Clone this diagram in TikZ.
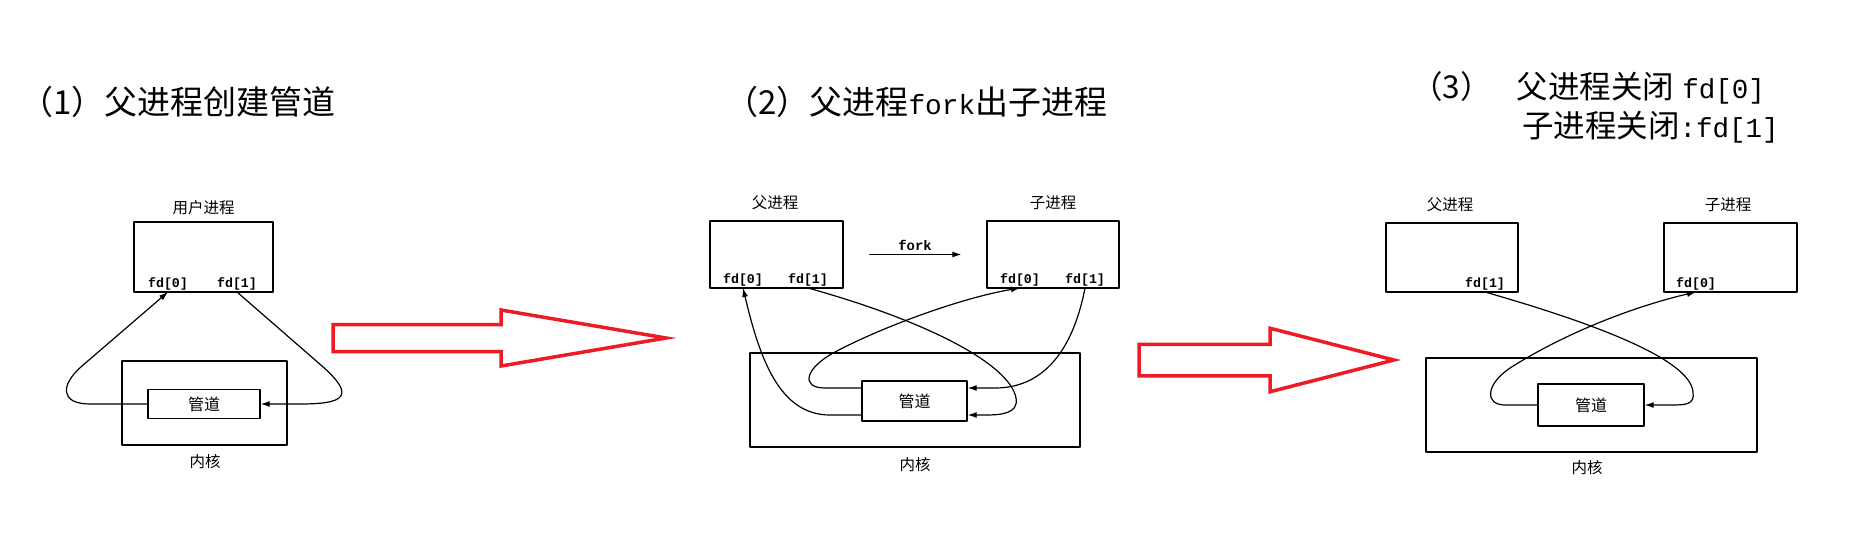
\documentclass[tikz,border=0pt]{standalone}
\usepackage{fontspec}
\setmainfont{Noto Sans CJK SC}
\setmonofont{Liberation Mono}
\usepackage{tikz}
\usetikzlibrary{arrows.meta}
\definecolor{arrred}{RGB}{237,28,36}
\tikzset{>=latex}
\tikzset{box/.style={draw, line width=1.3pt, inner sep=0pt, font=\fontsize{16}{18}\selectfont}}
\tikzset{lbl/.style={font=\fontsize{15.5}{18}\selectfont}}
\tikzset{fd/.style={anchor=south, inner sep=2pt, font=\ttfamily\bfseries\fontsize{13.3}{15}\selectfont}}
\tikzset{link/.style={line width=1.2pt, -{Latex[length=9pt, width=6pt]}}}
\tikzset{redarr/.style={draw=arrred, line width=3.5pt, line join=miter}}
\tikzset{title/.style={anchor=west, inner sep=0pt}}
\newcommand{\hollowarrow}[6]{%
	\draw[redarr] (#1,#4-#5) -- (#2,#4-#5) -- (#2,#4-#6) -- (#3,#4) -- (#2,#4+#6) -- (#2,#4+#5) -- (#1,#4+#5) -- cycle;
}

\begin{document}
\begin{tikzpicture}[x=1pt, y=-1pt, line cap=round, line join=round]
	\useasboundingbox (0,0) rectangle (1860,536);

	% Titles
	\node[title, font=\fontsize{33}{36}\selectfont] (tit1) at (20,102) {（1）父进程创建管道};
	\node[title, font=\fontsize{33}{36}\selectfont] (tit2) at (725,102) {（2）父进程{\ttfamily\fontsize{27.8}{30}\selectfont fork}出子进程};
	\node[title, font=\fontsize{31.5}{34}\selectfont] (tit3a) at (1411,88) {（3）\hspace{0.8em}父进程关闭\hspace{0.25em}{\ttfamily\fontsize{27.5}{30}\selectfont fd[0]}};
	\node[title, font=\fontsize{31.5}{34}\selectfont] (tit3b) at (1522,127) {子进程关闭{\ttfamily\fontsize{27.5}{30}\selectfont :fd[1]}};

	% Panel 1
	\node[box, minimum width=139pt, minimum height=70pt] (usr) at (203.5,257) {};
	\node[lbl] (usrlbl) at (203.5,208) {用户进程};
	\node[fd] (fdA) at (168,292) {fd[0]};
	\node[fd] (fdB) at (237,292) {fd[1]};
	\node[box, minimum width=165pt, minimum height=84pt] (krn1) at (204.5,403) {};
	\node[box, minimum width=112pt, minimum height=29pt] (pipe1) at (204,404) {管道};
	\node[lbl] (krnlbl1) at (205,462) {内核};
	\draw[link] (pipe1.west) -- (90,404) .. controls (60,404) and (60,385) .. (82,366) -- (fdA.south);
	\draw[link] (fdB.south) -- (322,366) .. controls (356,396) and (345,404) .. (300,404) -- (pipe1.east);

	% Arrow 1
	\hollowarrow{333}{501}{666}{338}{13.5}{28}

	% Panel 2
	\node[box, minimum width=133pt, minimum height=67pt] (par2) at (776.5,254.5) {};
	\node[box, minimum width=132pt, minimum height=67pt] (chd2) at (1053,254.5) {};
	\node[lbl] (parlbl2) at (775,203) {父进程};
	\node[lbl] (chdlbl2) at (1053,203) {子进程};
	\node[fd] (fdC) at (743,288) {fd[0]};
	\node[fd] (fdD) at (808,288) {fd[1]};
	\node[fd] (fdE) at (1020,288) {fd[0]};
	\node[fd] (fdF) at (1085,288) {fd[1]};
	\draw[link, shorten <=26pt, shorten >=25pt] (par2.east) -- (chd2.west) node[midway, above, inner sep=3pt, font=\ttfamily\bfseries\fontsize{13.9}{15}\selectfont] {fork};
	\node[box, minimum width=330pt, minimum height=94pt] (krn2) at (915,400) {};
	\node[box, minimum width=105pt, minimum height=40pt] (pipe2) at (914.5,401) {管道};
	\node[lbl] (krnlbl2) at (915,465) {内核};
	\draw[link] ([yshift=-14pt]pipe2.west) -- (830,415) .. controls (780,415) and (760,360) .. (fdC.south);
	\draw[link] (fdD.south) .. controls (930,322) and (1010,365) .. (1016,398) .. controls (1019,414) and (1000,415) .. (985,415) -- ([yshift=-14pt]pipe2.east);
	\draw[link] ([yshift=13pt]pipe2.west) -- (825,388) .. controls (800,388) and (805,368) .. (835,352) .. controls (880,328) and (960,298) .. (fdE.south);
	\draw[link] (fdF.south) .. controls (1075,340) and (1050,388) .. (995,388) -- ([yshift=13pt]pipe2.east);

	% Arrow 2
	\hollowarrow{1139}{1270}{1394}{360}{15.75}{31.75}

	% Panel 3
	\node[box, minimum width=132pt, minimum height=69pt] (par3) at (1452,257.5) {};
	\node[box, minimum width=133pt, minimum height=69pt] (chd3) at (1730.5,257.5) {};
	\node[lbl] (parlbl3) at (1450,205) {父进程};
	\node[lbl] (chdlbl3) at (1728,205) {子进程};
	\node[fd] (fdG) at (1485,292) {fd[1]};
	\node[fd] (fdH) at (1696,292) {fd[0]};
	\node[box, minimum width=331pt, minimum height=94pt] (krn3) at (1591.5,405) {};
	\node[box, minimum width=106pt, minimum height=42pt] (pipe3) at (1591,405) {管道};
	\node[lbl] (krnlbl3) at (1587,468) {内核};
	\draw[link] (fdG.south) .. controls (1600,325) and (1690,360) .. (1693,392) .. controls (1695,405) and (1685,405) .. (1670,405) -- (pipe3.east);
	\draw[link] (pipe3.west) -- (1505,405) .. controls (1485,405) and (1485,385) .. (1510,368) .. controls (1570,330) and (1640,305) .. (fdH.south);
\end{tikzpicture}
\end{document}
